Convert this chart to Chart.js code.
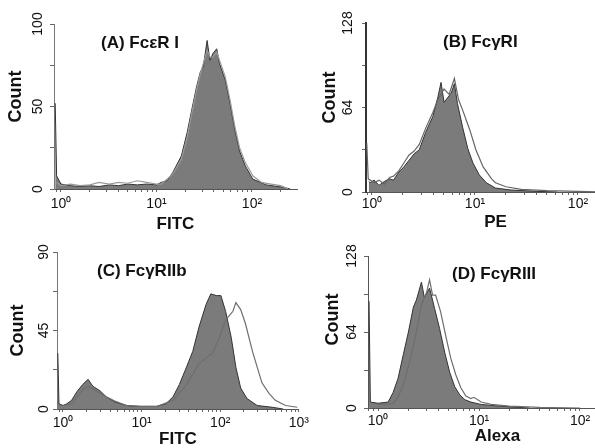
<!DOCTYPE html>
<html>
<head>
<meta charset="utf-8">
<script src="https://cdn.jsdelivr.net/npm/chart.js@4.4.0/dist/chart.umd.min.js"></script>
<style>
  html, body { margin: 0; padding: 0; background: #fff; width: 595px; height: 448px; overflow: hidden; }
  canvas { position: absolute; }
</style>
</head>
<body>
<canvas id="panelA" width="300" height="236" style="left:0px;top:0px"></canvas>
<canvas id="panelB" width="325" height="236" style="left:300px;top:0px"></canvas>
<canvas id="panelC" width="312" height="224" style="left:0px;top:224px"></canvas>
<canvas id="panelD" width="327" height="224" style="left:300px;top:224px"></canvas>
<script>
// (A) FcεR I  -- fluorescence (FITC) vs count
const fcerFillX = [0.87, 0.9, 1.0, 1.26, 1.58, 2.0, 2.5, 3.2, 4.0, 5.0, 6.3, 7.9, 10, 11.2, 12.9, 14.8, 18.2, 20.9, 23.4, 26.3, 28.8, 30.9, 33.9, 36.3, 38.9, 42.7, 45.7, 52.5, 58.9, 66.1, 74.1, 85.1, 102, 141, 214, 251];
const fcerFillY = [52, 8, 3, 2, 1.5, 2, 1.5, 2.5, 2, 3, 2.5, 3, 2.5, 4, 5, 10, 20, 34, 48, 62, 71, 74, 90, 78, 82, 85, 76, 66, 52, 36, 23, 14, 6, 2.5, 1, 0];
const fcerOpenX = [0.9, 1.0, 1.26, 1.58, 2.0, 2.5, 3.2, 4.0, 5.0, 6.3, 7.9, 10, 11.2, 12.9, 14.8, 18.2, 20.9, 23.4, 26.3, 28.8, 30.9, 33.9, 36.3, 38.9, 42.7, 45.7, 52.5, 58.9, 66.1, 74.1, 85.1, 102, 126, 158, 200, 240];
const fcerOpenY = [4, 2, 3, 2, 2.5, 4, 3, 4, 3.5, 5, 4, 3, 3, 6, 9, 18, 31, 46, 60, 70, 76, 84, 80, 80, 83, 78, 68, 54, 38, 25, 16, 8, 4, 3, 2, 0];

// (B) FcγRI -- PE
const fcg1FillX = [0.93, 0.96, 1.05, 1.17, 1.32, 1.48, 1.62, 1.82, 2.04, 2.29, 2.57, 2.88, 3.31, 3.63, 3.89, 4.37, 4.68, 5.01, 5.25, 5.89, 6.31, 6.76, 7.59, 8.51, 9.55, 11.0, 12.9, 15.8, 22.4, 39.8, 63];
const fcg1FillY = [8, 7, 9, 5, 8, 10, 9, 15, 19, 24, 29, 32, 45, 52, 57, 72, 83, 68, 70, 75, 82, 67, 49, 33, 22, 13, 7, 3, 1.5, 0.5, 0];
const fcg1OpenX = [0.89, 0.92, 1.05, 1.17, 1.32, 1.48, 1.62, 1.82, 2.04, 2.29, 2.57, 2.88, 3.31, 3.63, 3.89, 4.37, 5.01, 5.62, 6.31, 6.92, 7.59, 8.91, 10.2, 12.0, 14.5, 15.8, 20, 28.2, 50, 100, 200];
const fcg1OpenY = [37, 10, 7, 9, 6, 11, 12, 16, 22, 28, 31, 36, 48, 55, 60, 70, 78, 74, 86, 70, 62, 47, 32, 19, 10, 7, 4, 2, 1, 0.5, 0];

// (C) FcγRIIb -- FITC
const fcg2FillX = [0.86, 0.89, 1.0, 1.12, 1.29, 1.51, 1.78, 2.09, 2.4, 2.95, 3.55, 4.57, 6.46, 9.33, 15.5, 20.4, 25.1, 30.2, 37.2, 44.7, 53.7, 66.1, 75.9, 89.1, 102, 117, 138, 158, 182, 219, 295, 457, 631];
const fcg2FillY = [32, 3, 2, 3, 5, 10, 14, 17, 13, 10.5, 7, 4, 2, 1.5, 1.5, 3, 7, 14, 24, 33, 47, 60, 66, 65, 65, 56, 41, 24, 12, 6, 2, 1, 0];
const fcg2OpenX = [1.0, 1.29, 1.51, 1.78, 2.09, 2.4, 2.95, 3.55, 4.57, 6.46, 10, 15.8, 25.1, 37.2, 53.7, 79.4, 97.7, 117, 145, 158, 182, 209, 257, 295, 339, 417, 501, 676, 955];
const fcg2OpenY = [2, 3, 7, 11, 13, 11.5, 9, 7, 4.5, 2, 1.5, 1.5, 5, 14, 26, 32, 41, 51, 56, 61, 57, 49, 33, 24, 15, 9, 5, 2, 1];

// (D) FcγRIII -- Alexa
const fcg3FillX = [0.815, 0.84, 1.0, 1.26, 1.41, 1.58, 1.78, 2.0, 2.24, 2.4, 2.69, 2.88, 3.24, 3.63, 4.07, 4.57, 5.13, 5.75, 6.46, 7.24, 8.32, 10.5, 14.1, 20, 31.6];
const fcg3FillY = [90, 5, 4, 5, 13, 25, 45, 64, 85, 91, 106, 93, 101, 84, 67, 47, 30, 18, 11, 7, 5, 3, 2, 1, 0];
const fcg3OpenX = [1.0, 1.26, 1.41, 1.58, 1.82, 2.14, 2.4, 2.69, 3.02, 3.24, 3.47, 3.72, 4.17, 4.68, 5.25, 5.89, 6.61, 7.41, 8.32, 8.91, 10.5, 13.2, 20, 39.8, 100];
const fcg3OpenY = [3, 3, 4, 9, 22, 45, 64, 87, 97, 108, 95, 95, 81, 61, 42, 28, 17, 10, 8, 9, 5, 3, 1.5, 0.5, 0];

const countMax = [100, 128, 90, 128];
const panelTitles = ['(A) FcεR I', '(B) FcγRI', '(C) FcγRIIb', '(D) FcγRIII'];
const axisTitles = ['FITC', 'PE', 'FITC', 'Alexa'];

const FONT = '"Liberation Sans", Arial, Helvetica, sans-serif';
const SUP = { 0: '\u2070', 1: '\u00b9', 2: '\u00b2', 3: '\u00b3' };

function toPoints(xs, ys) {
    return xs.map((x, i) => ({ x: x, y: ys[i] }));
}

function logTicks(min, max) {
    const out = [];
    for (let e = Math.floor(Math.log10(min)); e <= Math.ceil(Math.log10(max)); e++) {
        for (let m = 1; m <= 9; m++) {
            const v = Number((m * Math.pow(10, e)).toPrecision(6));
            if (v >= min && v <= max) out.push(v);
        }
    }
    return out;
}

function decadeLabel(v) {
    const e = Math.log10(v);
    if (Math.abs(e - Math.round(e)) < 1e-6) return '10' + SUP[Math.round(e)];
    return '';
}

// draws the "(A) ..." label inside each plot
const panelTitle = {
    id: 'panelTitle',
    afterDraw(chart, args, opts) {
        const ctx = chart.ctx;
        ctx.save();
        ctx.font = 'bold 17px ' + FONT;
        ctx.fillStyle = '#111';
        ctx.textBaseline = 'middle';
        ctx.fillText(opts.text, opts.x, opts.y);
        ctx.restore();
    }
};

function makePanel(id, p) {
    const yStep = p.yMax / 4;
    new Chart(document.getElementById(id).getContext('2d'), {
        type: 'line',
        data: {
            datasets: [{
                data: toPoints(p.openX, p.openY),
                borderColor: p.openColor,
                borderWidth: 1.2,
                fill: false,
                pointRadius: 0,
                tension: 0
            }, {
                data: toPoints(p.fillX, p.fillY),
                borderColor: '#333',
                backgroundColor: '#7b7b7b',
                borderWidth: 1,
                fill: 'origin',
                pointRadius: 0,
                tension: 0
            }]
        },
        options: {
            responsive: false,
            animation: false,
            layout: { padding: { top: p.padTop, right: p.padRight, left: 0, bottom: 0 } },
            plugins: {
                legend: { display: false },
                tooltip: { enabled: false },
                panelTitle: { text: p.title, x: p.titleX, y: p.titleY }
            },
            scales: {
                x: {
                    type: 'logarithmic',
                    min: p.xMin,
                    max: p.xMax,
                    afterBuildTicks: axis => { axis.ticks = logTicks(p.xMin, p.xMax).map(v => ({ value: v })); },
                    afterFit: axis => { axis.height = p.xHeight; },
                    ticks: {
                        autoSkip: false,
                        minRotation: 0,
                        maxRotation: 0,
                        padding: p.xTickPad,
                        color: '#111',
                        font: { family: FONT, size: 14 },
                        callback: v => decadeLabel(v)
                    },
                    grid: { drawOnChartArea: false, drawTicks: true, tickLength: 3, tickColor: '#666' },
                    border: { color: '#555', width: 1 },
                    title: {
                        display: true,
                        text: p.xTitle,
                        color: '#111',
                        font: { family: FONT, size: 17, weight: 'bold', lineHeight: 1 },
                        padding: { top: 0, bottom: p.xTitlePad }
                    }
                },
                y: {
                    min: 0,
                    max: p.yMax,
                    afterBuildTicks: axis => { axis.ticks = [0, 1, 2, 3, 4].map(k => ({ value: k * yStep })); },
                    afterFit: axis => { axis.width = p.yWidth; },
                    ticks: {
                        minRotation: 90,
                        maxRotation: 90,
                        crossAlign: 'center',
                        padding: p.yTickPad,
                        color: '#111',
                        font: { family: FONT, size: 14 },
                        callback: v => (Math.round(v / yStep) % 2 === 0 ? String(v) : '')
                    },
                    grid: { drawOnChartArea: false, drawTicks: true, tickLength: 4, tickColor: '#666' },
                    border: { color: p.yBorderColor, width: p.yBorderWidth },
                    title: {
                        display: true,
                        text: p.yTitle,
                        color: '#111',
                        font: { family: FONT, size: 18, weight: 'bold', lineHeight: 1 },
                        padding: { top: p.yTitlePad, bottom: 0 }
                    }
                }
            }
        },
        plugins: [panelTitle]
    });
}

// leading no-break spaces push "Count" up a little, as in the original figure
makePanel('panelA', {
    fillX: fcerFillX, fillY: fcerFillY, openX: fcerOpenX, openY: fcerOpenY, openColor: '#9a9a9a',
    xMin: 0.845, xMax: 296, yMax: countMax[0],
    title: panelTitles[0], titleX: 101, titleY: 43, xTitle: axisTitles[0], yTitle: '\u00a0\u00a0\u00a0\u00a0Count',
    padTop: 24, padRight: 3, yWidth: 54, xHeight: 47,
    xTickPad: 4, xTitlePad: 3.5, yTickPad: 0, yTitlePad: 7,
    yBorderColor: '#777', yBorderWidth: 1
});

makePanel('panelB', {
    fillX: fcg1FillX, fillY: fcg1FillY, openX: fcg1OpenX, openY: fcg1OpenY, openColor: '#666',
    xMin: 0.875, xMax: 286, yMax: countMax[1],
    title: panelTitles[1], titleX: 143, titleY: 42, xTitle: axisTitles[1], yTitle: '\u00a0\u00a0\u00a0\u00a0Count',
    padTop: 23, padRight: 0, yWidth: 66, xHeight: 44,
    xTickPad: 1, xTitlePad: 5, yTickPad: 2, yTitlePad: 21,
    yBorderColor: '#333', yBorderWidth: 2
});

makePanel('panelC', {
    fillX: fcg2FillX, fillY: fcg2FillY, openX: fcg2OpenX, openY: fcg2OpenY, openColor: '#6e6e6e',
    xMin: 0.84, xMax: 1000, yMax: countMax[2],
    title: panelTitles[2], titleX: 97, titleY: 47, xTitle: axisTitles[2], yTitle: 'Count',
    padTop: 28, padRight: 12, yWidth: 57, xHeight: 39,
    xTickPad: 3, xTitlePad: 0.5, yTickPad: 1, yTitlePad: 9,
    yBorderColor: '#777', yBorderWidth: 1
});

makePanel('panelD', {
    fillX: fcg3FillX, fillY: fcg3FillY, openX: fcg3OpenX, openY: fcg3OpenY, openColor: '#6e6e6e',
    xMin: 0.796, xMax: 292, yMax: countMax[3],
    title: panelTitles[3], titleX: 152, titleY: 50, xTitle: axisTitles[3], yTitle: '\u00a0\u00a0\u00a0\u00a0\u00a0Count',
    padTop: 32, padRight: 0, yWidth: 68, xHeight: 40,
    xTickPad: 2, xTitlePad: 3.5, yTickPad: 0, yTitlePad: 24.5,
    yBorderColor: '#555', yBorderWidth: 1
});
</script>
</body>
</html>
